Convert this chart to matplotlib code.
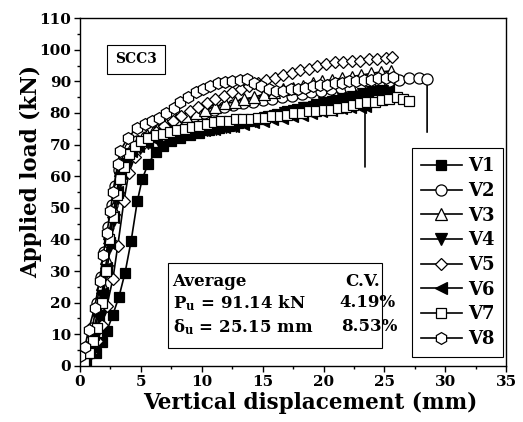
import matplotlib
matplotlib.use('Agg')
import matplotlib.pyplot as plt
from matplotlib.patches import Rectangle

plt.rcParams['font.family'] = 'DejaVu Serif'
plt.rcParams['font.weight'] = 'bold'
plt.rcParams['mathtext.fontset'] = 'dejavuserif'

# load-displacement curves (mm, kN)
v1_x = [0.0, 0.5, 1.3, 1.8, 2.2, 2.7, 3.2, 3.7, 4.2, 4.7, 5.1, 5.6, 6.2, 6.8, 7.5, 8.2, 9.0, 9.8, 10.6,
        11.4, 12.2, 13.0, 13.8, 14.6, 15.4, 16.2, 17.0, 17.8, 18.6, 19.4, 20.2, 21.0, 21.8, 22.6, 23.4,
        24.2, 25.0, 25.4]
v1_y = [0, 1.0, 4.0, 7.6, 11.0, 16.2, 21.9, 29.5, 39.6, 52.0, 59.0, 64.0, 67.5, 69.5, 71.0, 72.0, 73.0,
        73.8, 74.5, 75.2, 76.0, 76.8, 77.5, 78.2, 79.0, 79.8, 80.5, 81.2, 82.0, 82.8, 83.5, 84.2, 85.0,
        85.8, 86.5, 87.2, 87.8, 88.0]

v2_x = [0.2, 0.6, 1.0, 1.4, 1.7, 2.0, 2.3, 2.6, 2.9, 3.2, 3.6, 4.1, 4.7, 5.4, 6.2, 7.0, 7.8, 8.6, 9.4,
        10.2, 11.0, 11.8, 12.6, 13.4, 14.2, 15.0, 15.8, 16.6, 17.4, 18.2, 19.0, 19.8, 20.6, 21.4, 22.2,
        23.0, 23.8, 24.6, 25.4, 26.2, 27.0, 27.8, 28.5, 28.5]
v2_y = [2, 6, 12, 20, 28, 36, 44, 51, 57, 62, 66, 69, 71, 72.5, 74, 75.5, 77, 78, 79, 80, 81, 82, 82.5,
        83, 83.5, 84, 84.5, 85, 85.5, 86, 86.5, 87, 87.5, 88, 88, 88.5, 89, 89.5, 90, 90.5, 91, 91, 90.8,
        74]

v3_x = [0.3, 0.7, 1.1, 1.5, 1.8, 2.1, 2.4, 2.7, 3.0, 3.3, 3.7, 4.2, 4.8, 5.5, 6.3, 7.1, 7.9, 8.7, 9.5,
        10.3, 11.1, 11.9, 12.7, 13.5, 14.3, 15.1, 15.9, 16.7, 17.5, 18.3, 19.1, 19.9, 20.7, 21.5, 22.3,
        23.1, 23.9, 24.7, 25.5]
v3_y = [1, 5, 11, 18, 26, 34, 42, 50, 57, 62, 66, 69, 71, 73, 75, 76.5, 78, 79, 80, 81, 82, 83, 83.5,
        84.5, 85, 86, 86.5, 87.5, 88, 88.5, 89.5, 90, 90.5, 91, 91.5, 92, 92.5, 93, 93.3]

v4_x = [0.4, 0.8, 1.2, 1.6, 1.9, 2.2, 2.5, 2.8, 3.1, 3.4, 3.8, 4.3, 4.9, 5.6, 6.4, 7.2, 8.0, 8.8, 9.6,
        10.4, 11.2, 12.0, 12.8, 13.6, 14.4, 15.2, 16.0, 16.8, 17.6, 18.4, 19.2, 20.0, 20.8, 21.6, 22.4,
        23.2, 24.0, 24.8]
v4_y = [1, 4, 9, 15, 22, 30, 38, 46, 53, 59, 64, 67, 69, 70.5, 71.5, 72.5, 73, 73.5, 74, 74.5, 75, 75.5,
        76, 77, 77.5, 78.5, 79, 80, 80.5, 81.5, 82, 83, 83.5, 84.5, 85, 86, 86.5, 87]

v5_x = [0.4, 0.9, 1.4, 1.8, 2.2, 2.7, 3.1, 3.6, 4.0, 4.5, 5.0, 5.6, 6.2, 6.9, 7.6, 8.3, 9.0, 9.7, 10.4,
        11.1, 11.8, 12.5, 13.2, 13.9, 14.6, 15.3, 16.0, 16.7, 17.4, 18.1, 18.8, 19.5, 20.2, 20.9, 21.6,
        22.3, 23.0, 23.7, 24.4, 25.1, 25.6]
v5_y = [1, 4, 8, 13, 19, 27.5, 38, 52, 61, 66, 69.5, 72, 74, 76, 77.5, 79, 80.5, 82, 83, 84.5, 85.5,
        86.5, 87.5, 88.5, 89.5, 90.5, 91, 92, 92.5, 93.5, 94, 95, 95.5, 96, 96, 96.5, 96.5, 97, 97, 97.5,
        97.8]

v6_x = [0.3, 0.7, 1.1, 1.5, 1.8, 2.1, 2.4, 2.7, 3.0, 3.3, 3.7, 4.2, 4.8, 5.5, 6.2, 7.0, 7.8, 8.6, 9.4,
        10.2, 11.0, 11.8, 12.6, 13.4, 14.2, 15.0, 15.8, 16.6, 17.4, 18.2, 19.0, 19.8, 20.6, 21.4, 22.2,
        23.0, 23.4, 23.4]
v6_y = [1, 5, 10, 16, 23, 31, 39, 47, 55, 61, 65, 68, 69.5, 70.5, 71.5, 72.5, 73, 73.5, 74, 74.5, 75,
        75.5, 76, 76.5, 77, 77.5, 78, 78.5, 79, 79.5, 80, 80.5, 81, 81.5, 82, 82, 82.3, 63]

v7_x = [0.3, 0.7, 1.1, 1.4, 1.8, 2.1, 2.4, 2.7, 3.0, 3.3, 3.6, 4.0, 4.5, 5.0, 5.6, 6.2, 6.8, 7.4, 8.0,
        8.6, 9.2, 9.8, 10.4, 11.0, 11.6, 12.2, 12.8, 13.4, 14.0, 14.6, 15.2, 15.8, 16.4, 17.0, 17.6, 18.2,
        18.8, 19.4, 20.0, 20.6, 21.2, 21.8, 22.4, 23.0, 23.6, 24.2, 24.8, 25.4, 26.0, 26.5, 27.0]
v7_y = [1, 4, 8, 12, 20, 30, 40, 47, 54, 59, 63, 67, 69.5, 71, 72, 73, 73.5, 74, 74.5, 75, 75.5, 76,
        76.5, 77, 77.5, 77.5, 78, 78, 78, 78.5, 78.5, 79, 79, 79.5, 80, 80, 80.5, 80.5, 81, 81, 81.5, 82,
        82.5, 83, 83.5, 83.5, 84, 84.5, 85, 84.5, 83.7]

v8_x = [0.0, 0.4, 0.7, 1.2, 1.6, 1.9, 2.2, 2.5, 2.7, 3.1, 3.3, 3.9, 4.7, 5.3, 5.9, 6.5, 7.1, 7.7, 8.2,
        8.9, 9.5, 10.1, 10.7, 11.3, 11.9, 12.5, 13.1, 13.7, 14.3, 14.9, 15.5, 16.1, 16.7, 17.3, 17.9,
        18.5, 19.1, 19.7, 20.3, 20.9, 21.5, 22.1, 22.7, 23.3, 23.9, 24.5, 25.1, 25.7]
v8_y = [3, 6, 11.4, 18.4, 27, 35, 42, 49, 55, 64, 68, 72, 75.4, 76.5, 77.5, 78.5, 80, 81.5, 83.4, 85,
        86.5, 87.5, 88.5, 89.5, 89.7, 90, 90.5, 90.7, 89.5, 88.4, 87.5, 87, 87, 87.5, 87.5, 88, 88.5, 89,
        89, 89.5, 89.5, 90, 90, 90.5, 90.5, 91, 91, 91.5]

labels = ['V1', 'V2', 'V3', 'V4', 'V5', 'V6', 'V7', 'V8']
markers = ['s', 'o', '^', 'v', 'D', '<', 's', 'h']
filled = [True, False, False, True, False, True, False, False]
sizes = [7, 8, 8, 8, 6.5, 8, 7, 8.5]
drops = [False, True, False, False, False, True, False, False]

curves = [(v1_x, v1_y), (v2_x, v2_y), (v3_x, v3_y), (v4_x, v4_y),
          (v5_x, v5_y), (v6_x, v6_y), (v7_x, v7_y), (v8_x, v8_y)]

fig = plt.figure(figsize=(5.23, 4.22), dpi=100)
ax = fig.add_axes([0.153, 0.133, 0.815, 0.824])

for (xs, ys), lab, m, f, ms, d in zip(curves, labels, markers, filled, sizes, drops):
    ax.plot(xs, ys, color='black', lw=1.2, marker=m, ms=ms,
            mfc='black' if f else 'white', mec='black', mew=0.9,
            markevery=slice(0, len(xs) - 1) if d else None, label=lab)

ax.set_xlim(0, 35)
ax.set_ylim(0, 110)
ax.set_xticks(range(0, 36, 5))
ax.set_xticks([2.5 + 5 * i for i in range(7)], minor=True)
ax.set_yticks(range(0, 111, 10))
ax.set_yticks([5 + 10 * i for i in range(11)], minor=True)
ax.tick_params(which='major', length=4.5, width=1, labelsize=11, pad=2)
ax.tick_params(which='minor', length=2.5, width=1)
for lab in ax.get_xticklabels() + ax.get_yticklabels():
    lab.set_fontweight('bold')
for s in ax.spines.values():
    s.set_linewidth(1)

ax.set_xlabel('Vertical displacement (mm)', fontsize=15.5, fontweight='bold')
ax.set_ylabel('Applied load (kN)', fontsize=15.5, fontweight='bold')
ax.xaxis.set_label_coords(0.54, -0.075)
ax.yaxis.set_label_coords(-0.09, 0.56)

ax.text(4.6, 97, 'SCC3', fontsize=10, fontweight='bold', ha='center', va='center',
        bbox=dict(boxstyle='square,pad=0.55', facecolor='white', edgecolor='black', lw=0.8))

ax.add_patch(Rectangle((7.23, 5.7), 17.57, 26.9, facecolor='none', edgecolor='black', lw=0.8, zorder=3))
ax.text(7.6, 26.6, 'Average', fontsize=12, fontweight='bold', va='center', zorder=4)
ax.text(24.6, 26.6, 'C.V.', fontsize=12, fontweight='bold', va='center', ha='right', zorder=4)
ax.text(7.6, 19.9, r'P$_{\mathbf{u}}$ = 91.14 kN', fontsize=12, fontweight='bold', va='center', zorder=4)
ax.text(25.9, 19.9, '4.19%', fontsize=12, fontweight='bold', va='center', ha='right', zorder=4)
ax.text(7.6, 12.3, r'δ$_{\mathbf{u}}$ = 25.15 mm', fontsize=12, fontweight='bold', va='center', zorder=4)
ax.text(26.05, 12.3, '8.53%', fontsize=12, fontweight='bold', va='center', ha='right', zorder=4)

leg = ax.legend(loc='lower right', bbox_to_anchor=(0.993, 0.025), borderaxespad=0, fontsize=13,
                handlelength=2.3, labelspacing=0.37, handletextpad=0.3, borderpad=0.5, fancybox=False,
                edgecolor='black', framealpha=1)
leg.get_frame().set_linewidth(0.8)
for t in leg.get_texts():
    t.set_fontweight('bold')

fig.savefig('out.png', dpi=100)
